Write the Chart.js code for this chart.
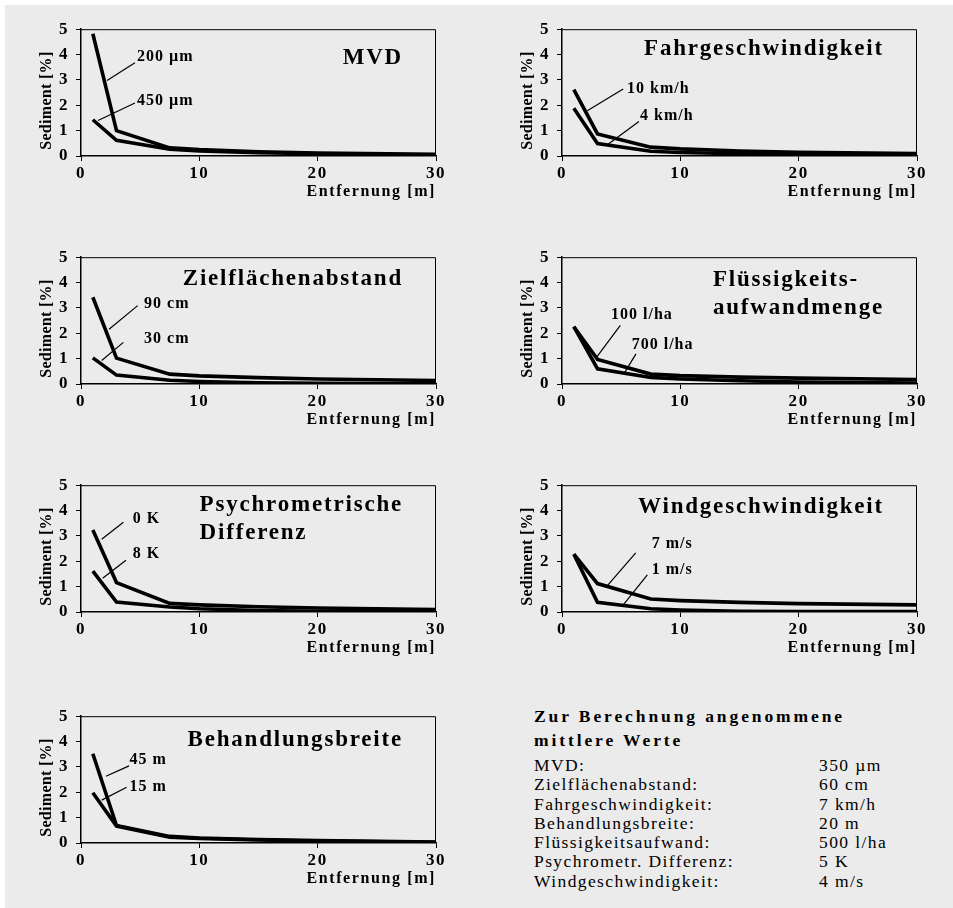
<!DOCTYPE html>
<html>
<head>
<meta charset="utf-8">
<script src="https://cdn.jsdelivr.net/npm/chart.js@4.4.1/dist/chart.umd.min.js"></script>
<style>
body{margin:0;background:#fff;}
#page{position:relative;width:953px;height:908px;overflow:hidden;}
#bg{position:absolute;left:5px;top:5px;right:0;bottom:0;background:#ebebeb;}
.panel{position:absolute;width:445px;height:194px;}
#werte{position:absolute;left:534px;top:704px;font-family:"Liberation Serif",serif;color:#000;}
#werte .head{font-weight:bold;font-size:17.5px;line-height:24px;letter-spacing:2.9px;}
#werte .row{font-size:17.5px;line-height:19.3px;letter-spacing:1.4px;white-space:nowrap;position:relative;}
#werte .row span{position:absolute;left:285px;top:0;}
#werte .list{margin-top:4px;}
</style>
</head>
<body>
<div id="page">
<div id="bg"></div>
<div id="werte"></div>
</div>
<script>
// Entfernung [m]
const distances = [1, 3, 7.5, 10, 15, 20, 30];
const xTicks = [0, 10, 20, 30];
const yTicks = [0, 1, 2, 3, 4, 5];

// Sediment [%]
const mvd200 = [4.82, 1.0, 0.32, 0.25, 0.17, 0.12, 0.07];
const mvd450 = [1.43, 0.62, 0.27, 0.2, 0.13, 0.09, 0.03];
const fahr10 = [2.62, 0.87, 0.35, 0.28, 0.2, 0.15, 0.1];
const fahr4 = [1.88, 0.49, 0.19, 0.14, 0.09, 0.06, 0.04];
const ziel90 = [3.42, 1.02, 0.39, 0.32, 0.25, 0.2, 0.14];
const ziel30 = [1.03, 0.35, 0.15, 0.1, 0.05, 0.03, 0.01];
const fl100 = [2.26, 0.97, 0.39, 0.33, 0.27, 0.23, 0.18];
const fl700 = [2.26, 0.6, 0.26, 0.2, 0.13, 0.08, 0.04];
const psy0 = [3.23, 1.16, 0.34, 0.28, 0.21, 0.16, 0.1];
const psy8 = [1.61, 0.39, 0.2, 0.13, 0.06, 0.03, 0.0];
const wind7 = [2.28, 1.12, 0.51, 0.45, 0.38, 0.33, 0.28];
const wind1 = [2.28, 0.38, 0.13, 0.08, 0.03, 0.02, 0.02];
const beh45 = [3.52, 0.69, 0.26, 0.2, 0.14, 0.1, 0.04];
const beh15 = [1.98, 0.67, 0.23, 0.18, 0.12, 0.08, 0.03];

const paramNames = ['MVD:', 'Zielflächenabstand:', 'Fahrgeschwindigkeit:', 'Behandlungsbreite:', 'Flüssigkeitsaufwand:', 'Psychrometr. Differenz:', 'Windgeschwindigkeit:'];
const paramValues = ['350 µm', '60 cm', '7 km/h', '20 m', '500 l/ha', '5 K', '4 m/s'];

const FONT = '"Liberation Serif", "Times New Roman", serif';

// panel layout: canvas position, title lines (y in data units), curve labels with leader lines
const panels = [
  {left: 6, top: 12, series: [mvd200, mvd450],
   title: {lines: ['MVD'], at: [3.85]},
   labels: [
     {text: '200 µm', from: [2.2, 2.98], to: [4.56, 3.68], at: [4.73, 3.9]},
     {text: '450 µm', from: [1.44, 1.4], to: [4.56, 2.09], at: [4.73, 2.17]}]},
  {left: 487, top: 12, series: [fahr10, fahr4],
   title: {lines: ['Fahrgeschwindigkeit'], at: [4.22]},
   labels: [
     {text: '10 km/h', from: [2.14, 1.78], to: [5.17, 2.64], at: [5.5, 2.64]},
     {text: '4 km/h', from: [3.84, 0.44], to: [6.5, 1.36], at: [6.6, 1.58]}]},
  {left: 6, top: 240, series: [ziel90, ziel30],
   title: {lines: ['Zielflächenabstand'], at: [4.15]},
   labels: [
     {text: '90 cm', from: [2.37, 2.16], to: [4.79, 3.09], at: [5.33, 3.15]},
     {text: '30 cm', from: [1.75, 0.93], to: [3.58, 1.64], at: [5.33, 1.77]}]},
  {left: 487, top: 240, series: [fl100, fl700],
   title: {lines: ['Flüssigkeits-', 'aufwandmenge'], at: [4.11, 2.98]},
   labels: [
     {text: '100 l/ha', from: [2.93, 1.06], to: [4.93, 2.31], at: [4.14, 2.71]},
     {text: '700 l/ha', from: [5.24, 0.41], to: [6.25, 1.19], at: [5.89, 1.54]}]},
  {left: 6, top: 468, series: [psy0, psy8],
   title: {lines: ['Psychrometrische', 'Differenz'], at: [4.23, 3.1]},
   labels: [
     {text: '0 K', from: [1.75, 2.87], to: [3.58, 3.54], at: [4.37, 3.68]},
     {text: '8 K', from: [1.83, 1.33], to: [3.8, 2.04], at: [4.37, 2.29]}]},
  {left: 487, top: 468, series: [wind7, wind1],
   title: {lines: ['Windgeschwindigkeit'], at: [4.15]},
   labels: [
     {text: '7 m/s', from: [3.78, 1.01], to: [6.23, 2.33], at: [7.58, 2.68]},
     {text: '1 m/s', from: [5.18, 0.28], to: [7.21, 1.46], at: [7.58, 1.65]}]},
  {left: 6, top: 699, series: [beh45, beh15],
   title: {lines: ['Behandlungsbreite'], at: [4.07]},
   labels: [
     {text: '45 m', from: [2.11, 2.63], to: [4.06, 3.04], at: [4.09, 3.26]},
     {text: '15 m', from: [1.75, 1.69], to: [3.86, 2.2], at: [4.09, 2.2]}]}
];

const panelDecor = {
  id: 'panelDecor',
  beforeDraw(chart) { chart.ctx.letterSpacing = '1.6px'; },
  beforeDatasetsDraw(chart) { chart.ctx.letterSpacing = '0px'; },
  afterDraw(chart, args, opts) {
    const {ctx, chartArea: a} = chart;
    const x = chart.scales.x, y = chart.scales.y;
    ctx.save();
    ctx.strokeStyle = '#000';
    ctx.fillStyle = '#000';

    // top and right frame
    ctx.lineWidth = 1;
    ctx.beginPath();
    ctx.moveTo(a.left, a.top + 0.5);
    ctx.lineTo(a.right - 0.5, a.top + 0.5);
    ctx.lineTo(a.right - 0.5, a.bottom);
    ctx.stroke();

    // y axis title
    ctx.save();
    ctx.font = 'bold 16px ' + FONT;
    ctx.letterSpacing = '0.3px';
    ctx.translate(a.left - 34, (a.top + a.bottom) / 2 + 8);
    ctx.rotate(-Math.PI / 2);
    ctx.textAlign = 'center';
    ctx.textBaseline = 'middle';
    ctx.fillText('Sediment [%]', 0, 0);
    ctx.restore();

    // panel title
    ctx.font = 'bold 23px ' + FONT;
    ctx.letterSpacing = '1.8px';
    ctx.textAlign = 'left';
    ctx.textBaseline = 'middle';
    const t = opts.title;
    const w = Math.max(...t.lines.map(s => ctx.measureText(s).width));
    const x0 = a.right - 33 - w;
    t.lines.forEach((s, i) => ctx.fillText(s, x0, y.getPixelForValue(t.at[i])));

    // curve labels
    ctx.font = 'bold 16px ' + FONT;
    ctx.letterSpacing = '1px';
    opts.labels.forEach(l => {
      ctx.lineWidth = 1.2;
      ctx.beginPath();
      ctx.moveTo(x.getPixelForValue(l.from[0]), y.getPixelForValue(l.from[1]));
      ctx.lineTo(x.getPixelForValue(l.to[0]), y.getPixelForValue(l.to[1]));
      ctx.stroke();
      ctx.fillText(l.text, x.getPixelForValue(l.at[0]), y.getPixelForValue(l.at[1]));
    });
    ctx.restore();
  }
};

function makePanel(p) {
  const canvas = document.createElement('canvas');
  const box = document.createElement('div');
  box.className = 'panel';
  box.style.left = p.left + 'px';
  box.style.top = p.top + 'px';
  box.appendChild(canvas);
  document.getElementById('page').appendChild(box);

  const tickFont = {family: FONT, size: 17, weight: 'bold'};
  new Chart(canvas, {
    type: 'line',
    data: {
      datasets: p.series.map(s => ({
        data: distances.map((d, i) => ({x: d, y: s[i]})),
        borderColor: '#000',
        borderWidth: 3.6,
        pointRadius: 0,
        tension: 0
      }))
    },
    options: {
      responsive: true,
      maintainAspectRatio: false,
      animation: false,
      events: [],
      layout: {padding: {top: 15, right: 15, left: 0, bottom: 0}},
      plugins: {
        legend: {display: false},
        tooltip: {enabled: false},
        panelDecor: {title: p.title, labels: p.labels}
      },
      scales: {
        x: {
          type: 'linear', min: 0, max: 30,
          afterFit(s) { s.height = 50; },
          afterBuildTicks(s) { s.ticks = xTicks.map(v => ({value: v})); },
          grid: {drawOnChartArea: false, tickLength: 5, color: '#000'},
          border: {color: '#000', width: 1.5},
          ticks: {font: tickFont, color: '#000', padding: 2, maxRotation: 0},
          title: {display: true, text: 'Entfernung [m]', align: 'end', color: '#000',
                  font: {family: FONT, size: 16, weight: 'bold'}, padding: {top: 0, bottom: 5}}
        },
        y: {
          min: 0, max: 5,
          afterFit(s) { s.width = 75; },
          afterBuildTicks(s) { s.ticks = yTicks.map(v => ({value: v})); },
          grid: {drawOnChartArea: false, tickLength: 5, color: '#000'},
          border: {color: '#000', width: 1.5},
          ticks: {font: tickFont, color: '#000', padding: 7}
        }
      }
    },
    plugins: [panelDecor]
  });
}

panels.forEach(makePanel);

// table of assumed mean values
const werte = document.getElementById('werte');
werte.innerHTML = '<div class="head">Zur Berechnung angenommene</div><div class="head">mittlere Werte</div>' +
  '<div class="list">' + paramNames.map((n, i) => '<div class="row">' + n + '<span>' + paramValues[i] + '</span></div>').join('') + '</div>';
</script>
</body>
</html>
